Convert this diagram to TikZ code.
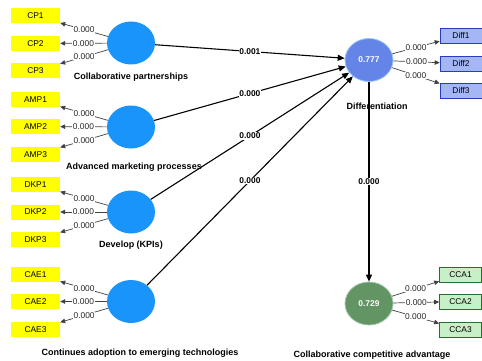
\documentclass[tikz,border=0pt]{standalone}
\usepackage{fontspec}
\setmainfont{Liberation Sans}
\usetikzlibrary{shapes.geometric,arrows.meta}
\definecolor{lvblue}{RGB}{24,148,250}
\definecolor{diffblue}{RGB}{100,132,232}
\definecolor{diffring}{RGB}{150,200,255}
\definecolor{ccagreen}{RGB}{98,148,100}
\definecolor{ccaring}{RGB}{160,200,170}
\definecolor{itemyellow}{RGB}{255,255,0}
\definecolor{diffbox}{RGB}{165,182,245}
\definecolor{diffedge}{RGB}{40,60,190}
\definecolor{ccabox}{RGB}{200,240,200}
\definecolor{ccaedge}{RGB}{40,110,50}
\tikzset{
  latent/.style={ellipse, inner sep=0pt, minimum width=48pt, minimum height=43pt,
    font=\fontsize{8.4}{9}\selectfont\bfseries, text=white},
  exo/.style={latent, fill=lvblue},
  item/.style={rectangle, inner sep=0pt, minimum width=49pt, minimum height=15pt,
    font=\fontsize{8.4}{9}\selectfont},
  yitem/.style={item, fill=itemyellow},
  ditem/.style={item, minimum width=42pt, fill=diffbox, draw=diffedge, line width=0.6pt},
  citem/.style={item, minimum width=42pt, fill=ccabox, draw=ccaedge, line width=0.6pt},
  lvname/.style={font=\fontsize{9}{10}\selectfont\bfseries},
  loading/.style={draw=black!75, line width=0.7pt, -{Triangle[length=5pt,width=4.5pt]}},
  pathc/.style={draw=black, line width=1.1pt, -{Triangle[length=7pt,width=6pt]}},
  lval/.style={fill=white, inner sep=0.6pt, font=\fontsize{8.4}{9}\selectfont, text=black!85},
  pval/.style={fill=white, inner sep=0.6pt, font=\fontsize{8.4}{9}\selectfont\bfseries},
}
\begin{document}
\begin{tikzpicture}[x=1pt, y=-1pt]
\useasboundingbox (0,0) rectangle (482,361);

% exogenous constructs
\node[exo] (CP)  at (131,43)  {};
\node[exo] (AMP) at (131,127) {};
\node[exo] (DKP) at (131,212) {};
\node[exo] (CAE) at (131,301.5) {};

% endogenous constructs
\node[latent, fill=diffblue, draw=diffring, line width=0.8pt] (DIF) at (369,60) {0.777};
\node[latent, fill=ccagreen, draw=ccaring, line width=0.8pt] (CCA) at (369,303.5) {0.729};

% construct names
\node[lvname] (nCP)  at (131,77)  {Collaborative partnerships};
\node[lvname] (nAMP) at (134,167) {Advanced marketing processes};
\node[lvname] (nDKP) at (131,245) {Develop (KPIs)};
\node[lvname] (nCAE) at (140,353) {Continues adoption to emerging technologies};
\node[lvname] (nDIF) at (377,106) {Differentiation};
\node[lvname] (nCCA) at (372,355) {Collaborative competitive advantage};

% indicators, left
\node[yitem] (CP1) at (35.5,16) {CP1};
\node[yitem] (CP2) at (35.5,43.5) {CP2};
\node[yitem] (CP3) at (35.5,71) {CP3};
\node[yitem] (AMP1) at (35.5,99.5) {AMP1};
\node[yitem] (AMP2) at (35.5,126.5) {AMP2};
\node[yitem] (AMP3) at (35.5,154.5) {AMP3};
\node[yitem] (DKP1) at (35.5,184.5) {DKP1};
\node[yitem] (DKP2) at (35.5,212) {DKP2};
\node[yitem] (DKP3) at (35.5,239.5) {DKP3};
\node[yitem] (CAE1) at (35.5,274.5) {CAE1};
\node[yitem] (CAE2) at (35.5,301.5) {CAE2};
\node[yitem] (CAE3) at (35.5,329.5) {CAE3};

% indicators, right
\node[ditem] (D1) at (461,35.5) {Diff1};
\node[ditem] (D2) at (461,63.5) {Diff2};
\node[ditem] (D3) at (461,90.5) {Diff3};
\node[citem] (C1) at (460.5,274.5) {CCA1};
\node[citem] (C2) at (460.5,301.5) {CCA2};
\node[citem] (C3) at (460.5,329.5) {CCA3};

% outer loadings
\foreach \lv/\a/\b/\c in {CP/CP1/CP2/CP3, AMP/AMP1/AMP2/AMP3, DKP/DKP1/DKP2/DKP3, CAE/CAE1/CAE2/CAE3, DIF/D1/D2/D3, CCA/C1/C2/C3}{
  \path[loading] (\lv) -- node[lval] {0.000} (\a);
  \path[loading] (\lv) -- node[lval] {0.000} (\b);
  \path[loading] (\lv) -- node[lval] {0.000} (\c);
}

% structural paths
\path[pathc] (CP)  -- node[pval] {0.001} (DIF);
\path[pathc] (AMP) -- node[pval] {0.000} (DIF);
\path[pathc] (DKP) -- node[pval] {0.000} (DIF);
\path[pathc] (CAE) -- node[pval] {0.000} (DIF);
\path[pathc] (DIF) -- node[pval] {0.000} (CCA);
\end{tikzpicture}
\end{document}
